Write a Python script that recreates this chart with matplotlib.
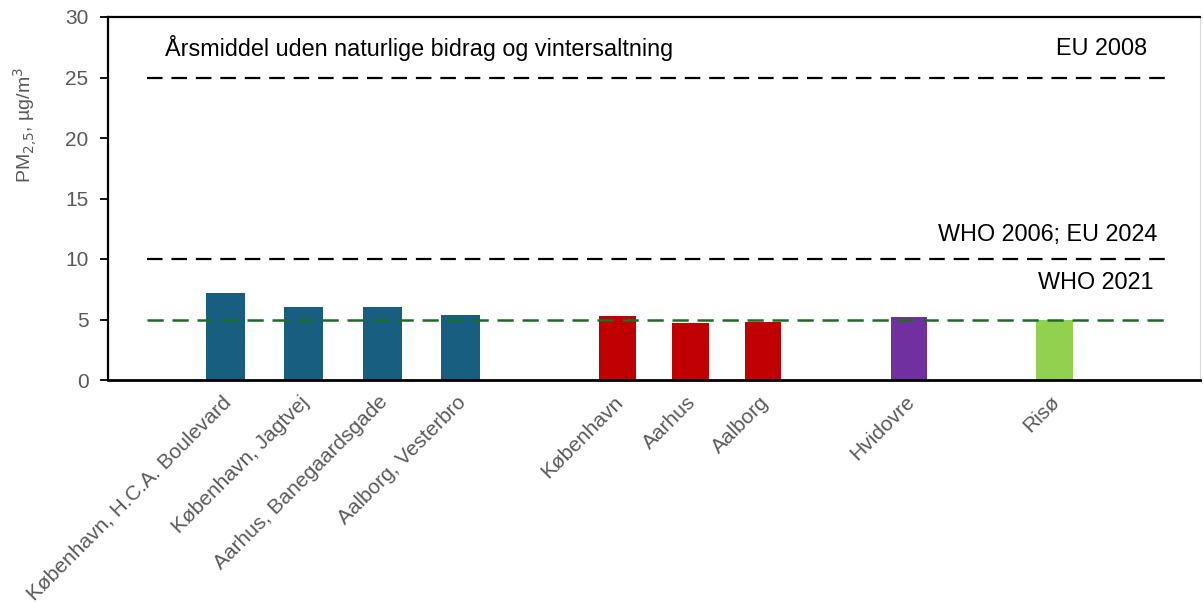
import matplotlib
matplotlib.use("Agg")
import matplotlib.pyplot as plt
import matplotlib.transforms as mtransforms

categories = ["København, H.C.A. Boulevard", "København, Jagtvej", "Aarhus, Banegaardsgade",
              "Aalborg, Vesterbro", "København", "Aarhus", "Aalborg", "Hvidovre", "Risø"]
values = [7.2, 6.0, 6.0, 5.4, 5.3, 4.7, 4.8, 5.2, 5.0]
colors = ["#175E80"] * 4 + ["#C00000"] * 3 + ["#7030A0", "#92D050"]
# slot positions on a 15-slot category axis
positions = [1.61, 2.685, 3.77, 4.84, 7, 8, 9, 11, 13]
widths = [0.54] * 4 + [0.5] * 5

limit_values = [25, 10, 5]
limit_labels = ["EU 2008", "WHO 2006; EU 2024", "WHO 2021"]
title_text = "Årsmiddel uden naturlige bidrag og vintersaltning"

plt.rcParams['font.family'] = ['Liberation Sans', 'DejaVu Sans']

fig = plt.figure(figsize=(12.03, 6.03), dpi=100)
ax = fig.add_axes([108/1203, 1 - 380/603, (1200-108)/1203, (380-17)/603])

ax.bar(positions, values, width=widths, color=colors, zorder=2)

# limit lines
ax.plot([0.54, 14.53], [limit_values[0]]*2, color="black", lw=1.6, dashes=(7, 4), zorder=3)
ax.plot([0.54, 14.53], [limit_values[1]]*2, color="black", lw=1.6, dashes=(7, 4), zorder=3)
ax.plot([0.54, 14.53], [limit_values[2]]*2, color="#1E6B25", lw=1.8, dashes=(6.5, 3.5), zorder=3)

ax.set_xlim(0, 15)
ax.set_ylim(0, 30)
ax.set_yticks(range(0, 31, 5))
ax.set_xticks(positions)
ax.set_xticklabels(categories, rotation=45, ha="right", rotation_mode="anchor")

ax.tick_params(axis="y", labelsize=15, labelcolor="#595959", direction="out", length=6, width=1.3, pad=8)
ax.tick_params(axis="x", labelsize=15, labelcolor="#595959", length=0, pad=9)

offset = mtransforms.ScaledTranslation(-4/100, 0, fig.dpi_scale_trans)
for lbl in ax.get_xticklabels():
    lbl.set_transform(lbl.get_transform() + offset)

for s in ["left", "bottom", "top"]:
    ax.spines[s].set_color("black")
ax.spines["left"].set_linewidth(1.6)
ax.spines["bottom"].set_linewidth(2.0)
ax.spines["top"].set_linewidth(1.6)
ax.spines["right"].set_color("#d9d9d9")
ax.spines["right"].set_linewidth(0.8)

ax.text(0.78, 27.4, title_text, fontsize=16.8, color="black", va="center", ha="left")
ax.text(14.28, 27.4, limit_labels[0], fontsize=16.8, color="black", va="center", ha="right")
ax.text(14.41, 12.0, limit_labels[1], fontsize=16.8, color="black", va="center", ha="right")
ax.text(14.36, 8.05, limit_labels[2], fontsize=16.8, color="black", va="center", ha="right")

fig.text(25/1203, 1 - 125/603, r"PM$_{2{,}5}$, µg/m$^{3}$", rotation=90, fontsize=14,
         color="#595959", ha="center", va="center")

fig.savefig("out.png", dpi=100)
